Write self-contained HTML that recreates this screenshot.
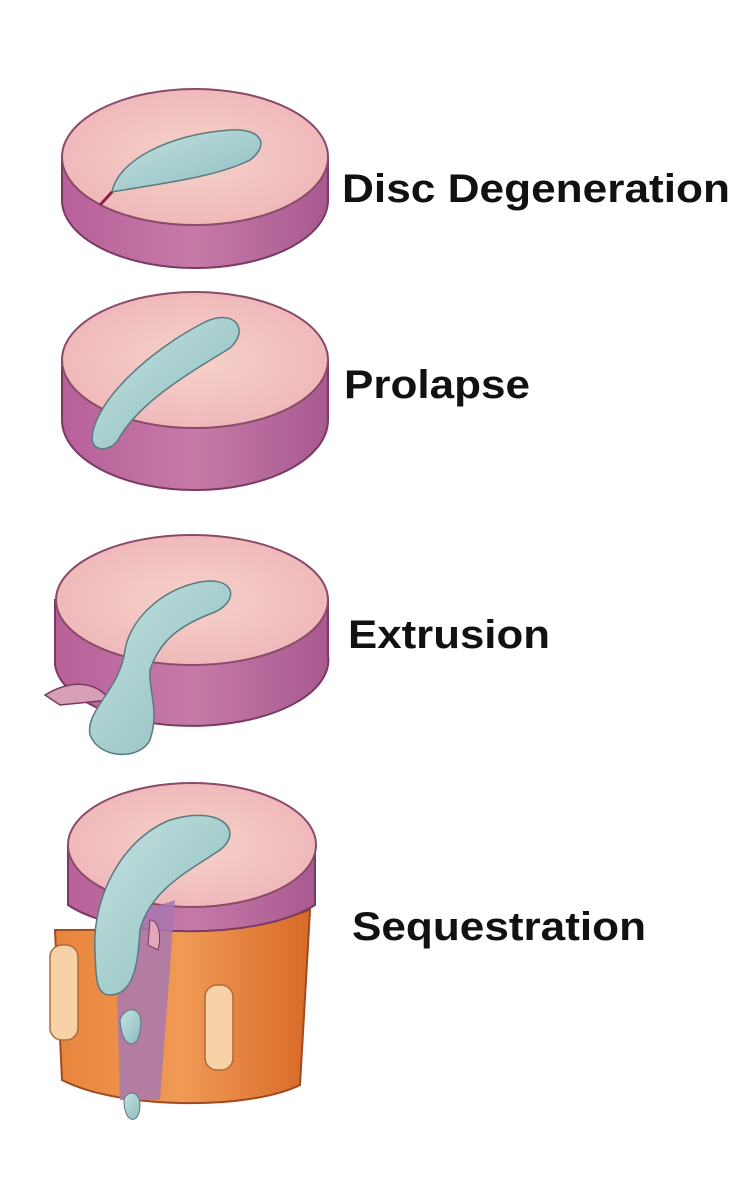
<!DOCTYPE html>
<html><head><meta charset="utf-8"><style>
html,body{margin:0;padding:0;background:#fff;}
svg{display:block}
text{font-family:"Liberation Sans",sans-serif;font-weight:bold;fill:#111;}
</style></head><body>
<svg width="738" height="1200" viewBox="0 0 738 1200" xmlns="http://www.w3.org/2000/svg">
<defs>
<linearGradient id="side" x1="0" x2="1" y1="0" y2="0">
<stop offset="0" stop-color="#b8609a"/><stop offset="0.5" stop-color="#c67aa8"/><stop offset="1" stop-color="#a85a90"/>
</linearGradient>
<radialGradient id="top" cx="0.5" cy="0.5" r="0.6">
<stop offset="0" stop-color="#f6d2c8"/><stop offset="1" stop-color="#eeb4b8"/>
</radialGradient>
<linearGradient id="blue" x1="0" x2="1" y1="0" y2="1">
<stop offset="0" stop-color="#c4e2e0"/><stop offset="1" stop-color="#8cbcbf"/>
</linearGradient>
<linearGradient id="orange" x1="0" x2="1">
<stop offset="0" stop-color="#e8843c"/><stop offset="0.5" stop-color="#f09a55"/><stop offset="1" stop-color="#d86a28"/>
</linearGradient>
</defs>

<!-- Disc 1 -->
<path d="M62,157 L62,200 A133,68 0 0 0 328,200 L328,157 Z" fill="url(#side)" stroke="#7a3a62" stroke-width="2"/>
<ellipse cx="195" cy="157" rx="133" ry="68" fill="url(#top)" stroke="#8a4a6a" stroke-width="2"/>
<path d="M112,192 C118,160 170,134 230,130 C262,128 270,145 250,160 C215,178 150,185 112,192 Z" fill="url(#blue)" stroke="#5a7a80" stroke-width="1.5"/>
<path d="M112,192 L100,205" stroke="#8a2040" stroke-width="3"/>
<text x="342" y="202" font-size="40" textLength="388" lengthAdjust="spacingAndGlyphs">Disc Degeneration</text>

<!-- Disc 2 -->
<path d="M62,360 L62,420 A133,70 0 0 0 328,420 L328,360 Z" fill="url(#side)" stroke="#7a3a62" stroke-width="2"/>
<ellipse cx="195" cy="360" rx="133" ry="68" fill="url(#top)" stroke="#8a4a6a" stroke-width="2"/>
<path d="M92,438 C95,400 150,350 205,322 C235,308 250,330 230,348 C195,370 140,400 118,440 C110,452 92,452 92,438 Z" fill="url(#blue)" stroke="#5a7a80" stroke-width="1.5"/>
<text x="344" y="398" font-size="40" textLength="186" lengthAdjust="spacingAndGlyphs">Prolapse</text>

<!-- Disc 3 -->
<path d="M55,600 L55,665 A135,65 0 0 0 328,655 L328,600 Z" fill="url(#side)" stroke="#7a3a62" stroke-width="2"/>
<ellipse cx="192" cy="600" rx="136" ry="65" fill="url(#top)" stroke="#8a4a6a" stroke-width="2"/>
<path d="M45,695 C70,680 95,680 110,700 L60,705 Z" fill="#d8a0b8" stroke="#7a3a62" stroke-width="1.5"/>
<path d="M125,690 C145,690 150,710 150,730 L135,725 Z" fill="#d8a0b8" stroke="#7a3a62" stroke-width="1.5"/>
<path d="M125,650 C130,620 160,590 200,582 C235,576 240,600 215,612 C180,625 160,640 150,670 C148,690 160,710 150,740 C140,760 100,760 90,735 C85,710 120,690 125,650 Z" fill="url(#blue)" stroke="#5a7a80" stroke-width="1.5"/>
<text x="348" y="648" font-size="40" textLength="202" lengthAdjust="spacingAndGlyphs">Extrusion</text>

<!-- Disc 4 with vertebra -->
<path d="M55,930 L62,1080 C120,1110 250,1110 300,1085 L310,910 C250,930 120,930 55,930 Z" fill="url(#orange)" stroke="#a04a20" stroke-width="2"/>
<rect x="50" y="945" width="28" height="95" rx="12" fill="#f6d2a6" stroke="#b06a3a" stroke-width="1.5"/>
<rect x="205" y="985" width="28" height="85" rx="12" fill="#f6d2a6" stroke="#b06a3a" stroke-width="1.5"/>
<path d="M68,845 L68,905 C120,940 260,940 315,905 L315,845 Z" fill="url(#side)" stroke="#7a3a62" stroke-width="2"/>
<ellipse cx="192" cy="845" rx="124" ry="62" fill="url(#top)" stroke="#8a4a6a" stroke-width="2"/>
<path d="M115,920 L120,1100 L160,1100 L175,900 Z" fill="#a878b0" opacity="0.85"/>
<path d="M150,920 C158,920 162,935 158,950 L148,945 Z" fill="#e0a8b8" stroke="#7a3a62"/>
<path d="M95,950 C92,900 120,840 170,820 C220,805 245,830 220,850 C190,870 150,890 140,930 C138,960 135,995 110,995 C95,995 96,975 95,950 Z" fill="url(#blue)" stroke="#5a7a80" stroke-width="1.5"/>
<path d="M120,1020 C125,1005 145,1005 140,1030 C138,1050 122,1050 120,1020 Z" fill="url(#blue)" stroke="#5a7a80"/>
<path d="M124,1100 C126,1090 140,1090 140,1105 C140,1125 124,1125 124,1100 Z" fill="url(#blue)" stroke="#5a7a80"/>
<text x="352" y="940" font-size="40" textLength="294" lengthAdjust="spacingAndGlyphs">Sequestration</text>
</svg>
</body></html>
